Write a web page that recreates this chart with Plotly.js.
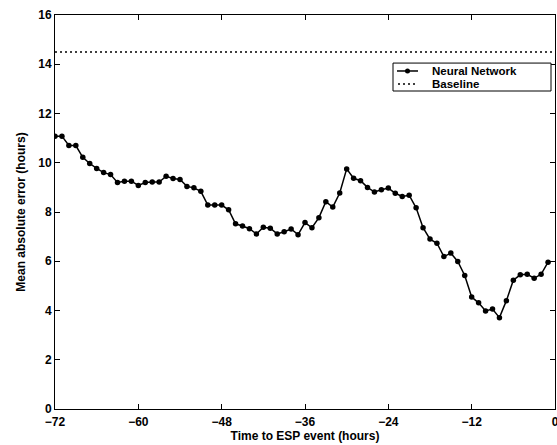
<!DOCTYPE html>
<html>
<head>
<meta charset="utf-8">
<script src="https://cdn.plot.ly/plotly-3.0.1.min.js"></script>
<style>html,body{margin:0;padding:0;background:#fff;}#chart{width:557px;height:445px;}</style>
</head>
<body>
<div id="chart"></div>
<script>
// Hours before the ESP event
var hours = [-72,-71,-70,-69,-68,-67,-66,-65,-64,-63,-62,-61,-60,-59,-58,-57,-56,-55,-54,-53,
  -52,-51,-50,-49,-48,-47,-46,-45,-44,-43,-42,-41,-40,-39,-38,-37,-36,-35,-34,-33,
  -32,-31,-30,-29,-28,-27,-26,-25,-24,-23,-22,-21,-20,-19,-18,-17,-16,-15,-14,-13,
  -12,-11,-10,-9,-8,-7,-6,-5,-4,-3,-2,-1];
// Neural network mean absolute error (hours)
var nnError = [11.08,11.08,10.70,10.70,10.22,9.97,9.77,9.60,9.52,9.20,9.25,9.25,9.08,9.20,9.22,9.22,9.45,9.36,9.32,9.04,
  8.98,8.84,8.28,8.28,8.28,8.09,7.52,7.43,7.32,7.11,7.38,7.34,7.11,7.20,7.31,7.08,7.57,7.36,7.77,8.42,
  8.20,8.77,9.75,9.37,9.27,9.00,8.81,8.90,8.97,8.76,8.63,8.68,8.17,7.36,6.90,6.73,6.19,6.33,5.99,5.42,
  4.55,4.31,3.98,4.06,3.71,4.40,5.23,5.45,5.47,5.31,5.47,5.96];
// Baseline error
var baselineX = [-72, 0];
var baselineY = [14.5, 14.5];
var seriesNames = ["Neural Network", "Baseline"];
var xTicks = [-72,-60,-48,-36,-24,-12,0];
var yTicks = [0,2,4,6,8,10,12,14,16];

function lbl(v) { return v < 0 ? "\u2212" + (-v) : String(v); }

var fam = "Liberation Sans, Arial, Helvetica, sans-serif";
var tickFont = {family: fam, size: 12, color: "#000", weight: "bold"};
var titleFont = {family: fam, size: 12, color: "#000", weight: "bold"};
var legFont = {family: fam, size: 11.5, color: "#000", weight: "bold"};

var traces = [
  {x: hours, y: nnError, type: "scatter", mode: "lines+markers", name: seriesNames[0],
   line: {color: "#000", width: 1.5}, marker: {color: "#000", size: 5.5}, showlegend: false},
  {x: baselineX, y: baselineY, type: "scatter", mode: "lines", name: seriesNames[1],
   line: {color: "#000", width: 1.5, dash: "2px,3px"}, showlegend: false}
];

var lx0 = 0.676, lx1 = 0.992, ly0 = 0.8071, ly1 = 0.878;
var row1 = 0.8579, row2 = 0.8249;
var layout = {
  width: 557, height: 445,
  margin: {l: 55, r: 2, t: 15, b: 36},
  paper_bgcolor: "#fff", plot_bgcolor: "#fff",
  font: {family: fam, size: 12, color: "#000"},
  showlegend: false,
  xaxis: {
    range: [-72, 0], tickvals: xTicks, ticktext: xTicks.map(lbl),
    ticks: "inside", ticklen: 5, tickcolor: "#000", tickwidth: 1,
    showline: true, linecolor: "#000", linewidth: 1, mirror: "allticks",
    showgrid: false, zeroline: false, tickfont: tickFont, ticklabeloverflow: "allow",
    ticklabelstandoff: 2,
    title: {text: "Time to ESP event (hours)", font: titleFont, standoff: 3}
  },
  yaxis: {
    range: [0, 16], tickvals: yTicks, ticktext: yTicks.map(lbl),
    ticks: "inside", ticklen: 5, tickcolor: "#000", tickwidth: 1,
    showline: true, linecolor: "#000", linewidth: 1, mirror: "allticks",
    showgrid: false, zeroline: false, tickfont: tickFont, ticklabeloverflow: "allow",
    title: {text: "Mean absolute error (hours)", font: titleFont, standoff: 10}
  },
  shapes: [
    {type: "rect", xref: "paper", yref: "paper", x0: lx0, x1: lx1, y0: ly0, y1: ly1,
     line: {color: "#000", width: 1}, fillcolor: "#fff", layer: "above"},
    {type: "line", xref: "paper", yref: "paper", x0: 0.684, x1: 0.726, y0: row1, y1: row1,
     line: {color: "#000", width: 1.5}, layer: "above"},
    {type: "circle", xref: "paper", yref: "paper", xsizemode: "pixel", ysizemode: "pixel",
     xanchor: 0.705, yanchor: row1, x0: -2.5, x1: 2.5, y0: -2.5, y1: 2.5,
     fillcolor: "#000", line: {color: "#000", width: 0}, layer: "above"},
    {type: "line", xref: "paper", yref: "paper", x0: 0.686, x1: 0.726, y0: row2, y1: row2,
     line: {color: "#000", width: 1.5, dash: "2px,3px"}, layer: "above"}
  ],
  annotations: [
    {xref: "paper", yref: "paper", x: 0.752, y: row1, text: seriesNames[0], showarrow: false,
     xanchor: "left", yanchor: "middle", font: legFont, borderpad: 0},
    {xref: "paper", yref: "paper", x: 0.752, y: row2, text: seriesNames[1], showarrow: false,
     xanchor: "left", yanchor: "middle", font: legFont, borderpad: 0}
  ]
};

Plotly.newPlot("chart", traces, layout, {displayModeBar: false, staticPlot: true});
</script>
</body>
</html>
